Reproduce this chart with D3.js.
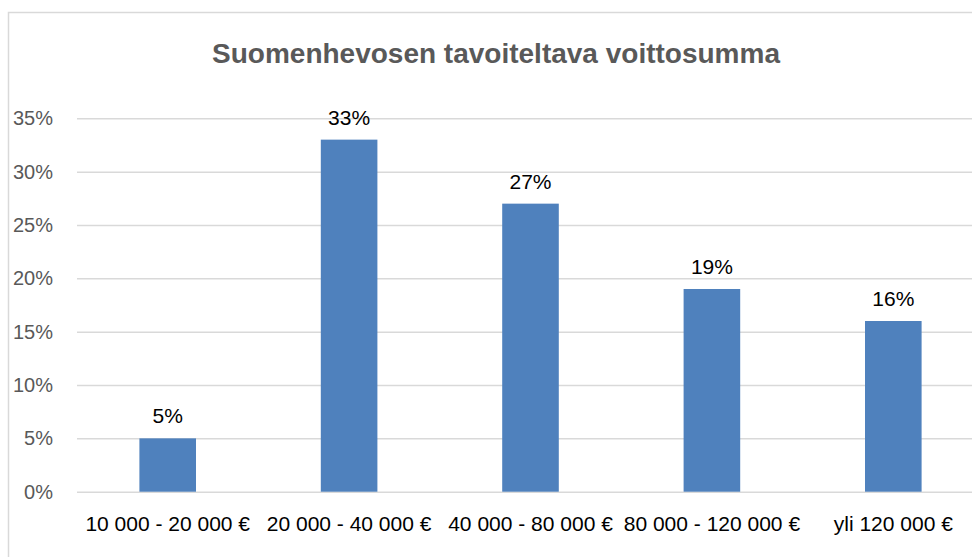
<!DOCTYPE html>
<html>
<head>
<meta charset="utf-8">
<script src="https://cdn.jsdelivr.net/npm/d3@7"></script>
<style>
  body { margin: 0; background: #fff; }
  svg { display: block; font-family: "Liberation Sans", Arial, sans-serif; }
</style>
</head>
<body>
<div id="chart-area"></div>
<script>
// data
const categories = ["10 000 - 20 000 €", "20 000 - 40 000 €", "40 000 - 80 000 €", "80 000 - 120 000 €", "yli 120 000 €"];
const values = [0.05, 0.33, 0.27, 0.19, 0.16];
const yTicks = [0, 0.05, 0.10, 0.15, 0.20, 0.25, 0.30, 0.35];
const title = "Suomenhevosen tavoiteltava voittosumma";

const W = 972, H = 557;
const margin = { left: 77, right: -12, top: 118.3, bottom: 65.3 };

const svg = d3.select("#chart-area")
  .append("svg")
    .attr("width", W)
    .attr("height", H);

// chart frame (runs off the right and bottom edges like the original)
svg.append("rect")
  .attr("x", 8.5)
  .attr("y", 12.5)
  .attr("width", 1000)
  .attr("height", 600)
  .attr("fill", "#fff")
  .attr("stroke", "#d9d9d9")
  .attr("stroke-width", 1.5);

const x = d3.scaleBand()
  .domain(categories)
  .range([margin.left, W - margin.right])
  .paddingInner(0.688)
  .paddingOuter(0.344);

const y = d3.scaleLinear()
  .domain([0, 0.35])
  .range([H - margin.bottom, margin.top]);

// title
svg.append("text")
  .attr("x", 496)
  .attr("y", 63)
  .attr("text-anchor", "middle")
  .attr("font-size", "28px")
  .attr("font-weight", "bold")
  .attr("fill", "#595959")
  .text(title);

// gridlines + y labels
const yaxis = d3.axisLeft(y)
  .tickValues(yTicks)
  .tickSize(-(W - margin.right - margin.left))
  .tickPadding(24)
  .tickFormat(d3.format(".0%"));

const gy = svg.append("g")
  .attr("transform", "translate(" + margin.left + ",0)")
  .call(yaxis);
gy.select(".domain").remove();
gy.selectAll(".tick line")
  .attr("stroke", "#d9d9d9")
  .attr("stroke-width", 1.5);
gy.selectAll(".tick text")
  .attr("font-size", "20px")
  .attr("font-family", "Liberation Sans, Arial, sans-serif")
  .attr("fill", "#595959");

// bars
svg.selectAll("rect.bar")
  .data(values)
  .enter()
  .append("rect")
    .attr("class", "bar")
    .attr("x", (d, i) => x(categories[i]))
    .attr("y", d => y(d))
    .attr("width", x.bandwidth())
    .attr("height", d => y(0) - y(d))
    .attr("fill", "#4f81bd");

// value labels
svg.selectAll("text.val")
  .data(values)
  .enter()
  .append("text")
    .attr("class", "val")
    .attr("x", (d, i) => x(categories[i]) + x.bandwidth() / 2)
    .attr("y", d => y(d) - 15)
    .attr("text-anchor", "middle")
    .attr("font-size", "21px")
    .attr("fill", "#000")
    .text(d => d3.format(".0%")(d));

// category labels
const xaxis = d3.axisBottom(x)
  .tickSize(0)
  .tickPadding(0);

const gx = svg.append("g")
  .attr("transform", "translate(0," + y(0) + ")")
  .call(xaxis);
gx.select(".domain").remove();
gx.selectAll(".tick text")
  .attr("dy", null)
  .attr("y", 39)
  .attr("font-size", "21px")
  .attr("font-family", "Liberation Sans, Arial, sans-serif")
  .attr("fill", "#000");
</script>
</body>
</html>
